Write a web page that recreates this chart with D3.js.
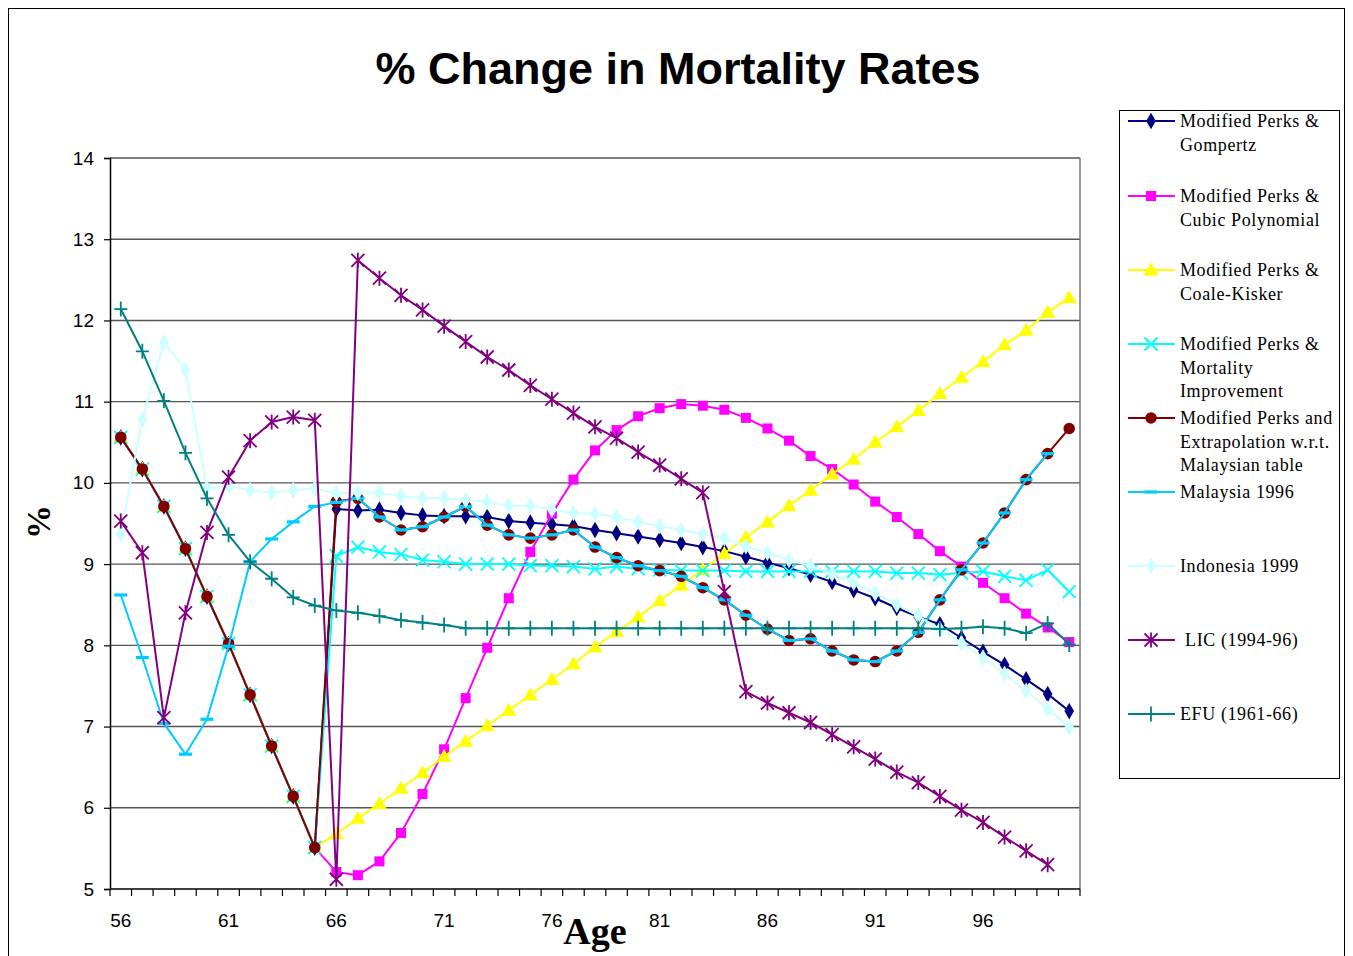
<!DOCTYPE html>
<html>
<head>
<meta charset="utf-8">
<script src="https://cdn.jsdelivr.net/npm/d3@7/dist/d3.min.js"></script>
<style>
  html, body { margin: 0; padding: 0; background: #fff; }
  svg { display: block; }
</style>
</head>
<body>
<svg id="chart" width="1353" height="956"></svg>
<script>
// Ages on the category axis
const ages = d3.range(56, 101);
const tickAges = [56, 61, 66, 71, 76, 81, 86, 91, 96];
const yTicks = [5, 6, 7, 8, 9, 10, 11, 12, 13, 14];

// Shared Modified Perks segment, ages 56-65
const perks = [10.56, 10.17, 9.71, 9.19, 8.60, 8.02, 7.39, 6.76, 6.14, 5.51];

// Ages 66-100 for each method
const gompertz = perks.concat([9.68, 9.66, 9.67, 9.63, 9.60, 9.59, 9.59, 9.58, 9.53, 9.51, 9.49, 9.47, 9.42, 9.38, 9.34, 9.30, 9.26, 9.21, 9.16, 9.09, 9.02, 8.95, 8.87, 8.78, 8.68, 8.58, 8.46, 8.35, 8.26, 8.09, 7.92, 7.76, 7.58, 7.40, 7.19]);
const cubic = perks.concat([5.21, 5.17, 5.34, 5.69, 6.17, 6.72, 7.35, 7.97, 8.58, 9.15, 9.62, 10.04, 10.40, 10.65, 10.82, 10.92, 10.97, 10.95, 10.90, 10.80, 10.67, 10.52, 10.33, 10.17, 9.98, 9.77, 9.58, 9.37, 9.16, 8.97, 8.77, 8.58, 8.39, 8.22, 8.04]);
const coaleKisker = perks.concat([5.68, 5.87, 6.05, 6.24, 6.43, 6.63, 6.82, 7.01, 7.20, 7.39, 7.58, 7.77, 7.98, 8.17, 8.35, 8.55, 8.74, 8.93, 9.13, 9.33, 9.52, 9.72, 9.91, 10.11, 10.29, 10.50, 10.69, 10.89, 11.10, 11.30, 11.49, 11.70, 11.88, 12.10, 12.28]);
const improvement = perks.concat([9.10, 9.21, 9.15, 9.12, 9.05, 9.03, 9.00, 9.00, 9.00, 8.98, 8.98, 8.97, 8.94, 8.97, 8.94, 8.93, 8.92, 8.92, 8.92, 8.91, 8.91, 8.91, 8.91, 8.91, 8.91, 8.91, 8.89, 8.89, 8.87, 8.89, 8.91, 8.85, 8.80, 8.93, 8.66]);
const extrapolation = perks.concat([9.77, 9.81, 9.58, 9.42, 9.46, 9.58, 9.71, 9.48, 9.36, 9.32, 9.36, 9.42, 9.21, 9.08, 8.98, 8.92, 8.85, 8.71, 8.56, 8.37, 8.20, 8.06, 8.08, 7.93, 7.82, 7.80, 7.93, 8.16, 8.56, 8.93, 9.26, 9.63, 10.04, 10.36, 10.67]);

// Published tables
const malaysia1996 = [8.62, 7.85, 7.04, 6.66, 7.09, 7.99, 9.03, 9.31, 9.52, 9.71, 9.76, 9.81, 9.58, 9.42, 9.46, 9.58, 9.71, 9.48, 9.36, 9.32, 9.36, 9.42, 9.21, 9.08, 8.98, 8.92, 8.85, 8.71, 8.56, 8.37, 8.20, 8.06, 8.08, 7.93, 7.82, 7.80, 7.93, 8.16, 8.56, 8.93, 9.26, 9.63, 10.04, 10.36, null];
const indonesia1999 = [9.37, 10.78, 11.73, 11.39, 9.93, 9.96, 9.91, 9.88, 9.91, 9.93, 9.87, 9.88, 9.88, 9.84, 9.81, 9.81, 9.79, 9.77, 9.72, 9.72, 9.67, 9.63, 9.62, 9.58, 9.52, 9.47, 9.42, 9.37, 9.32, 9.22, 9.14, 9.05, 8.98, 8.88, 8.77, 8.64, 8.50, 8.36, 8.20, 8.03, 7.85, 7.65, 7.44, 7.22, 6.99];
const lic = [9.53, 9.14, 7.11, 8.40, 9.39, 10.07, 10.52, 10.75, 10.81, 10.77, 5.12, 12.74, 12.52, 12.31, 12.13, 11.93, 11.74, 11.55, 11.39, 11.20, 11.03, 10.86, 10.69, 10.55, 10.38, 10.22, 10.05, 9.88, 8.66, 7.43, 7.29, 7.17, 7.05, 6.90, 6.75, 6.60, 6.44, 6.31, 6.14, 5.97, 5.82, 5.64, 5.47, 5.30, null];
const efu = [12.14, 11.62, 11.01, 10.37, 9.81, 9.36, 9.03, 8.82, 8.59, 8.49, 8.43, 8.40, 8.36, 8.31, 8.28, 8.25, 8.21, 8.21, 8.21, 8.21, 8.21, 8.21, 8.21, 8.21, 8.21, 8.21, 8.21, 8.21, 8.21, 8.21, 8.21, 8.21, 8.21, 8.21, 8.21, 8.21, 8.21, 8.21, 8.20, 8.21, 8.23, 8.21, 8.15, 8.27, 8.01];

const seriesNames = [
  ["Modified Perks &", "Gompertz"],
  ["Modified Perks &", "Cubic Polynomial"],
  ["Modified Perks &", "Coale-Kisker"],
  ["Modified Perks &", "Mortality", "Improvement"],
  ["Modified Perks and", "Extrapolation w.r.t.", "Malaysian table"],
  ["Malaysia 1996"],
  ["Indonesia 1999"],
  [" LIC (1994-96)"],
  ["EFU (1961-66)"]
];
const seriesValues = [gompertz, cubic, coaleKisker, improvement, extrapolation, malaysia1996, indonesia1999, lic, efu];
const seriesColors = ["#000080", "#FF00FF", "#FFFF00", "#00FFFF", "#800000", "#00CCFF", "#CCFFFF", "#800080", "#008080"];
const seriesMarkers = ["diamond", "square", "triangle", "cross", "circle", "dash", "diamond", "star", "plus"];

const series = seriesValues.map((vals, i) => ({
  name: seriesNames[i], color: seriesColors[i], marker: seriesMarkers[i],
  points: ages.map((a, j) => ({ age: a, v: vals[j] }))
}));

const svg = d3.select("#chart");

// Outer chart frame
svg.append("rect").attr("x", 8.5).attr("y", 8.5).attr("width", 1336).attr("height", 980)
  .attr("fill", "#fff").attr("stroke", "#000").attr("stroke-width", 1);

const plot = { left: 110, right: 1080, top: 158, bottom: 889 };

const x = d3.scaleBand().domain(ages).range([plot.left, plot.right]).padding(0);
const y = d3.scaleLinear().domain([5, 14]).range([plot.bottom, plot.top]);
const cx = a => x(a) + x.bandwidth() / 2;

// Title
svg.append("text").attr("x", 678).attr("y", 84).attr("text-anchor", "middle")
  .attr("font-family", "Liberation Sans, Arial, sans-serif").attr("font-weight", "bold")
  .attr("font-size", 45).text("% Change in Mortality Rates");

// Horizontal gridlines
svg.append("g").selectAll("line").data(yTicks.filter(t => t > 5)).join("line")
  .attr("x1", plot.left).attr("x2", plot.right)
  .attr("y1", d => y(d)).attr("y2", d => y(d))
  .attr("stroke", "#555").attr("stroke-width", 1.4);

// Plot area right border
svg.append("line").attr("x1", plot.right).attr("x2", plot.right)
  .attr("y1", plot.top).attr("y2", plot.bottom).attr("stroke", "#777").attr("stroke-width", 1.5);

// Y axis
const yAxis = d3.axisLeft(y).tickValues(yTicks).tickSize(6).tickPadding(10);
const gy = svg.append("g").attr("transform", `translate(${plot.left},0)`).call(yAxis);
gy.select(".domain").attr("stroke", "#000").attr("stroke-width", 1.5);
gy.selectAll(".tick line").attr("stroke", "#000").attr("stroke-width", 1.2);
gy.selectAll(".tick text").attr("font-family", "Liberation Sans, Arial, sans-serif")
  .attr("font-size", 19).attr("fill", "#000");

// X axis: tick marks at every category boundary, labels every fifth age
const gx = svg.append("g").attr("transform", `translate(0,${plot.bottom})`);
gx.append("line").attr("x1", plot.left).attr("x2", plot.right).attr("y1", 0).attr("y2", 0)
  .attr("stroke", "#000").attr("stroke-width", 1.5);
gx.selectAll("line.tk").data(ages.concat([101])).join("line").attr("class", "tk")
  .attr("x1", d => (d <= 100 ? x(d) : plot.right)).attr("x2", d => (d <= 100 ? x(d) : plot.right))
  .attr("y1", 0).attr("y2", 7).attr("stroke", "#000").attr("stroke-width", 1.2);
gx.selectAll("text").data(tickAges).join("text")
  .attr("x", d => cx(d)).attr("y", 38).attr("text-anchor", "middle")
  .attr("font-family", "Liberation Sans, Arial, sans-serif").attr("font-size", 19)
  .text(d => d);

// Axis titles
svg.append("text").attr("x", 595).attr("y", 944).attr("text-anchor", "middle")
  .attr("font-family", "Liberation Serif, Times New Roman, serif").attr("font-weight", "bold")
  .attr("font-size", 38).text("Age");
svg.append("text").attr("transform", "translate(50,522) rotate(-90)").attr("text-anchor", "middle")
  .attr("font-family", "Liberation Serif, Times New Roman, serif").attr("font-weight", "bold")
  .attr("font-size", 34).text("%");

// Marker shapes
function markerPath(type) {
  switch (type) {
    case "diamond": return d3.symbol(d3.symbolDiamond, 80)();
    case "square": return d3.symbol(d3.symbolSquare, 100)();
    case "triangle": return "M0,-7.5L7.5,5.5L-7.5,5.5Z";
    case "circle": return d3.symbol(d3.symbolCircle, 105)();
    case "cross": return "M-6.5,-6.5L6.5,6.5M-6.5,6.5L6.5,-6.5";
    case "star": return "M-6.5,-6.5L6.5,6.5M-6.5,6.5L6.5,-6.5M0,-7.5L0,7.5";
    case "plus": return "M-6.5,0L6.5,0M0,-7.5L0,7.5";
    case "dash": return "M-6.5,-1.6L6.5,-1.6L6.5,1.6L-6.5,1.6Z";
  }
}
const strokeMarkers = new Set(["cross", "star", "plus"]);

const line = d3.line().defined(d => d.v != null).x(d => cx(d.age)).y(d => y(d.v));

const gSeries = svg.append("g");
series.forEach(s => {
  const g = gSeries.append("g");
  g.append("path").datum(s.points).attr("d", line)
    .attr("fill", "none").attr("stroke", s.color).attr("stroke-width", 2)
    .attr("stroke-linejoin", "round");
  g.selectAll("path.mk").data(s.points.filter(p => p.v != null)).join("path").attr("class", "mk")
    .attr("transform", p => `translate(${cx(p.age)},${y(p.v)})`)
    .attr("d", markerPath(s.marker))
    .attr("fill", strokeMarkers.has(s.marker) ? "none" : s.color)
    .attr("stroke", strokeMarkers.has(s.marker) ? s.color : "none")
    .attr("stroke-width", 1.8);
});

// Legend
const legend = svg.append("g");
legend.append("rect").attr("x", 1119.5).attr("y", 110.5).attr("width", 220).attr("height", 668)
  .attr("fill", "#fff").attr("stroke", "#000").attr("stroke-width", 1);
const legendY = [121, 196, 270, 344, 418, 492, 566, 640, 714];
series.forEach((s, i) => {
  const ly = legendY[i];
  const g = legend.append("g");
  g.append("line").attr("x1", 1128).attr("x2", 1175).attr("y1", ly).attr("y2", ly)
    .attr("stroke", s.color).attr("stroke-width", 2);
  g.append("path").attr("transform", `translate(1151,${ly})`).attr("d", markerPath(s.marker))
    .attr("fill", strokeMarkers.has(s.marker) ? "none" : s.color)
    .attr("stroke", strokeMarkers.has(s.marker) ? s.color : "none").attr("stroke-width", 1.8);
  const t = g.append("text").attr("font-family", "Liberation Serif, Times New Roman, serif")
    .attr("font-size", 18).attr("letter-spacing", 0.6).attr("xml:space", "preserve");
  s.name.forEach((ln, k) => {
    t.append("tspan").attr("x", 1180).attr("y", ly + 6 + k * 23.7).text(ln);
  });
});
</script>
</body>
</html>
